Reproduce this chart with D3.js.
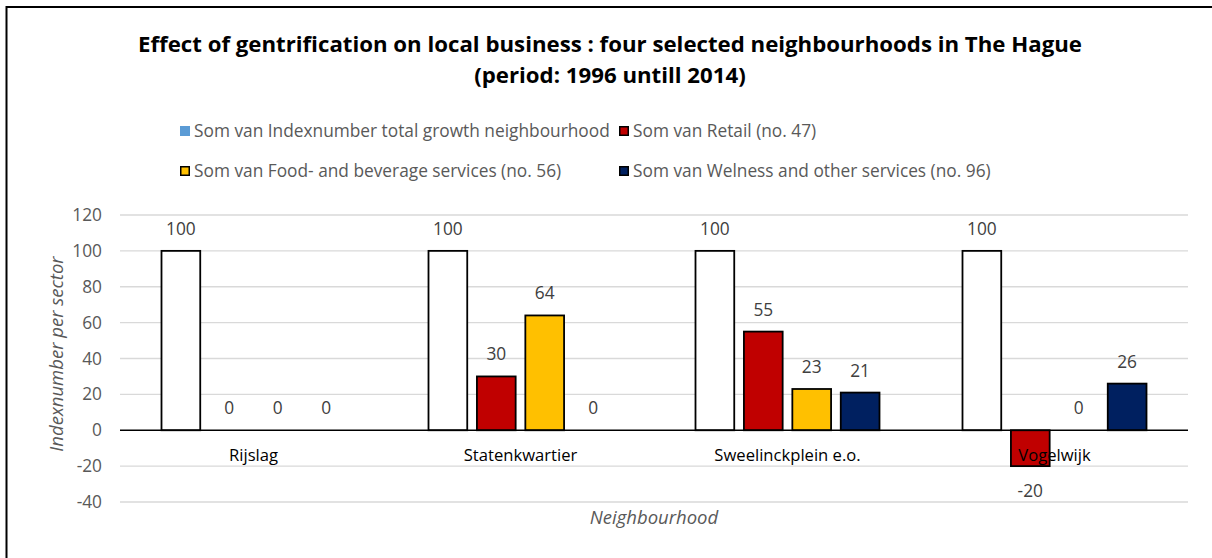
<!DOCTYPE html>
<html>
<head>
<meta charset="utf-8">
<script src="https://cdn.jsdelivr.net/npm/d3@7"></script>
<style>
  html, body { margin: 0; padding: 0; background: #fff; }
  svg { display: block; font-family: "Open Sans", sans-serif; }
</style>
</head>
<body>
<svg id="chart" width="1212" height="558"></svg>
<script>
// Neighbourhoods and index numbers per sector (1996 = 100)
const neighbourhoods = ["Rijslag", "Statenkwartier", "Sweelinckplein e.o.", "Vogelwijk"];
const seriesNames = [
  "Som van Indexnumber total growth neighbourhood",
  "Som van Retail (no. 47)",
  "Som van Food- and beverage services (no. 56)",
  "Som van Welness and other services (no. 96)"
];
const totalGrowth = [100, 100, 100, 100];
const retail = [0, 30, 55, -20];
const foodBeverage = [0, 64, 23, 0];
const welness = [0, 0, 21, 26];
const yTicks = [-40, -20, 0, 20, 40, 60, 80, 100, 120];

const seriesValues = [totalGrowth, retail, foodBeverage, welness];
const barFill = ["#ffffff", "#c00000", "#ffc000", "#002060"];
const legendFill = ["#5b9bd5", "#c00000", "#ffc000", "#002060"];

const svg = d3.select("#chart");
const W = 1212, H = 558;
const plot = { left: 120, right: 1188, top: 215, bottom: 502 };

// Scale a text's font size so its rendered width equals w
function fitWidth(sel, w) {
  const fs = parseFloat(sel.attr("font-size"));
  const len = sel.node().getComputedTextLength();
  const size = fs * w / len;
  sel.attr("font-size", size);
  return size;
}

// Frame lines (top and left edge of the chart area)
svg.append("line").attr("x1", 6).attr("x2", W).attr("y1", 7).attr("y2", 7)
  .attr("stroke", "#000").attr("stroke-width", 2);
svg.append("line").attr("x1", 6.5).attr("x2", 6.5).attr("y1", 6).attr("y2", H)
  .attr("stroke", "#000").attr("stroke-width", 2);

// Title
const t1 = svg.append("text").attr("text-anchor", "middle").attr("x", 610).attr("y", 52)
  .attr("font-weight", "bold").attr("font-size", 20).attr("fill", "#000")
  .text("Effect of gentrification on local business : four selected neighbourhoods in The Hague");
const titleSize = fitWidth(t1, 944);
svg.append("text").attr("text-anchor", "middle").attr("x", 610).attr("y", 83)
  .attr("font-weight", "bold").attr("font-size", titleSize).attr("fill", "#000")
  .text("(period: 1996 untill 2014)");

// Body text size, taken from the first legend entry
const probe = svg.append("text").attr("font-size", 14).text(seriesNames[0]);
const bodySize = fitWidth(probe, 416);
probe.remove();

// Scales
const y = d3.scaleLinear().domain([-40, 120]).range([plot.bottom, plot.top]);
const x0 = d3.scaleBand().domain(neighbourhoods).range([plot.left, plot.right]).padding(0);
const groupW = 184;
const x1 = d3.scaleBand().domain(d3.range(4))
  .range([(x0.bandwidth() - groupW) / 2, (x0.bandwidth() + groupW) / 2])
  .paddingInner(0.2).paddingOuter(0);

// Gridlines
svg.append("g").selectAll("line").data(yTicks.filter(t => t !== 0)).join("line")
  .attr("x1", plot.left).attr("x2", plot.right)
  .attr("y1", d => y(d)).attr("y2", d => y(d))
  .attr("stroke", "#d9d9d9").attr("stroke-width", 1.3);

// Y axis tick labels
const yAxis = svg.append("g").attr("transform", `translate(${plot.left},0)`)
  .call(d3.axisLeft(y).tickValues(yTicks).tickFormat(d => String(d)).tickSize(0).tickPadding(18));
yAxis.select(".domain").remove();
yAxis.selectAll("text").attr("font-size", bodySize).attr("fill", "#595959")
  .attr("font-family", "'Open Sans', sans-serif");

// Bars
const groups = svg.append("g").selectAll("g").data(neighbourhoods).join("g")
  .attr("transform", d => `translate(${x0(d)},0)`);

groups.each(function(cat, ci) {
  const g = d3.select(this);
  const vals = seriesValues.map((s, si) => ({ si, v: s[ci] }));
  g.selectAll("rect").data(vals.filter(d => d.v !== 0)).join("rect")
    .attr("x", d => x1(d.si))
    .attr("width", x1.bandwidth())
    .attr("y", d => y(Math.max(0, d.v)))
    .attr("height", d => Math.abs(y(d.v) - y(0)))
    .attr("fill", d => barFill[d.si])
    .attr("stroke", "#000").attr("stroke-width", 1.8);
  g.selectAll("text.val").data(vals).join("text")
    .attr("class", "val")
    .attr("x", d => x1(d.si) + x1.bandwidth() / 2)
    .attr("y", d => d.v >= 0 ? y(d.v) - 16 : y(d.v) + 31)
    .attr("text-anchor", "middle").attr("font-size", bodySize).attr("fill", "#404040")
    .text(d => String(d.v));
});

// Zero line
svg.append("line").attr("x1", plot.left).attr("x2", plot.right)
  .attr("y1", y(0)).attr("y2", y(0)).attr("stroke", "#000").attr("stroke-width", 1.6);

// Category labels
svg.append("g").selectAll("text").data(neighbourhoods).join("text")
  .attr("x", d => x0(d) + x0.bandwidth() / 2)
  .attr("y", y(0) + 31)
  .attr("text-anchor", "middle").attr("font-size", bodySize * 0.96).attr("fill", "#000")
  .text(d => d);

// Axis titles
svg.append("text").attr("x", (plot.left + plot.right) / 2).attr("y", 524)
  .attr("text-anchor", "middle").attr("font-size", bodySize * 1.07).attr("font-style", "italic")
  .attr("fill", "#595959").text("Neighbourhood");
svg.append("text").attr("transform", `translate(63,354) rotate(-90)`)
  .attr("text-anchor", "middle").attr("font-size", bodySize * 1.07).attr("font-style", "italic")
  .attr("fill", "#595959").text("Indexnumber per sector");

// Legend
const legendPos = [
  { x: 180, y: 131 }, { x: 619, y: 131 },
  { x: 180, y: 171 }, { x: 619, y: 171 }
];
const legend = svg.append("g").selectAll("g").data(seriesNames).join("g")
  .attr("transform", (d, i) => `translate(${legendPos[i].x},${legendPos[i].y})`);
legend.append("rect")
  .attr("x", (d, i) => i === 0 ? 0 : 0.75).attr("y", (d, i) => i === 0 ? -5 : -4.25)
  .attr("width", (d, i) => i === 0 ? 10 : 8.5).attr("height", (d, i) => i === 0 ? 10 : 8.5)
  .attr("fill", (d, i) => legendFill[i])
  .attr("stroke", (d, i) => i === 0 ? "none" : "#000").attr("stroke-width", 1.5);
legend.append("text").attr("x", 14).attr("y", 5.5)
  .attr("font-size", bodySize).attr("fill", "#595959").text(d => d);
</script>
</body>
</html>
